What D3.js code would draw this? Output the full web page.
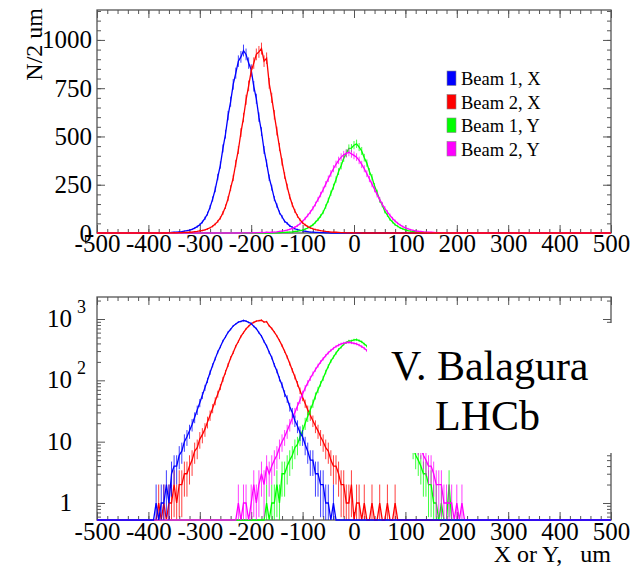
<!DOCTYPE html>
<html>
<head>
<meta charset="utf-8">
<script src="https://cdn.jsdelivr.net/npm/d3@7"></script>
<style>
  body { margin: 0; background: #fff; }
  svg { display: block; font-family: "Liberation Serif", "Times New Roman", serif; }
</style>
</head>
<body>
<svg width="643" height="566"></svg>
<script>
const svg = d3.select("svg");

// histogram contents, N per bin, bins 5 um wide starting at *Start
const binWidth = 5;

const beam1XStart = -395;
const beam1X = [0, 0, 1, 0, 1, 1, 2, 1, 3, 4,
  4, 6, 7, 10, 12, 15, 19, 25, 33, 43,
  57, 76, 100, 134, 176, 226, 290, 352, 438, 512,
  608, 680, 770, 828, 890, 912, 945, 925, 880, 845,
  760, 695, 600, 525, 430, 362, 286, 235, 178, 142,
  106, 84, 61, 50, 37, 30, 22, 18, 14, 12,
  9, 7, 5, 5, 3, 3, 2, 2, 1, 1,
  0, 1];

const beam2XStart = -385;
const beam2X = [0, 1, 0, 1, 0, 1, 1, 2, 1, 2,
  2, 3, 3, 4, 5, 7, 8, 11, 13, 16,
  21, 27, 35, 46, 60, 78, 104, 136, 178, 232,
  285, 360, 430, 520, 598, 690, 762, 838, 880, 925,
  938, 955, 890, 905, 775, 700, 612, 528, 445, 368,
  298, 240, 188, 146, 114, 88, 68, 53, 42, 33,
  27, 22, 18, 15, 12, 10, 8, 7, 5, 4,
  4, 3, 2, 2, 1, 1, 2, 0, 1, 1,
  0, 1, 0, 0, 1, 0, 0, 1, 0, 0,
  1, 0, 0, 1];

const beam1YStart = -175;
const beam1Y = [0, 1, 0, 1, 1, 2, 1, 3, 3, 4, 5, 6, 8, 9, 12, 15, 20, 26, 33, 42,
  56, 70, 88, 108, 137, 170, 206, 240, 277, 318, 348, 388, 413, 438, 440, 455, 462, 445, 425, 390,
  362, 318, 288, 243, 210, 170, 145, 112, 93, 71, 57, 43, 35, 26, 21, 16, 12, 10, 8, 6,
  5, 4, 3, 3, 2, 2, 1, 1, 0, 1, 0, 0, 2, 0];

const beam2YStart = -230;
const beam2Y = [0, 1, 0, 1, 1, 0, 1, 2, 1, 2,
  3, 2, 4, 3, 4, 5, 6, 8, 10, 12,
  15, 19, 24, 30, 38, 48, 60, 75, 91, 108,
  128, 150, 174, 199, 225, 253, 281, 308, 333, 356,
  376, 393, 405, 412, 418, 410, 402, 393, 376, 355,
  333, 307, 280, 253, 226, 198, 174, 149, 128, 108,
  91, 75, 62, 51, 41, 33, 27, 22, 17, 14,
  11, 9, 8, 6, 5, 4, 4, 3, 2, 2,
  2, 1, 1, 1, 1, 0, 1, 0, 1, 0];

const legendNames = ["Beam 1, X", "Beam 2, X", "Beam 1, Y", "Beam 2, Y"];
const colors = ["#0000ff", "#ff0000", "#00ff00", "#ff00ff"];

const xTicks = [-500, -400, -300, -200, -100, 0, 100, 200, 300, 400, 500];
const linTicks = [0, 250, 500, 750, 1000];
const logTicks = [1, 10, 100, 1000];
const logLabels = [["1", ""], ["10", ""], ["10", "2"], ["10", "3"]];

const series = [
  {name: legendNames[0], color: colors[0], start: beam1XStart, values: beam1X},
  {name: legendNames[1], color: colors[1], start: beam2XStart, values: beam2X},
  {name: legendNames[2], color: colors[2], start: beam1YStart, values: beam1Y},
  {name: legendNames[3], color: colors[3], start: beam2YStart, values: beam2Y}
];

const x = d3.scaleLinear().domain([-500, 500]).range([97, 611]);
const yLin = d3.scaleLinear().domain([0, 1155]).range([233, 10]);
const yLog = d3.scaleLog().domain([0.528, 2285]).range([520, 297]);

const frameColor = "#555";
const labelSize = 25;
const xMinor = d3.range(-500, 501, 20);
const linMinor = d3.range(0, 1151, 50);
const logMinor = [0.6, 0.7, 0.8, 0.9].concat(
  ...[1, 10, 100].map(p => d3.range(2, 10).map(k => k * p)), [2000]);

// every bin over the full range, empty bins are zero
const binsOf = s => d3.range(-500, 500 + binWidth / 2, binWidth).map(b => {
  const i = Math.round((b - s.start) / binWidth);
  return {x: b, v: i >= 0 && i < s.values.length ? s.values[i] : 0};
});

const styleAxis = g => {
  g.attr("color", frameColor).attr("font-size", labelSize)
    .attr("font-family", '"Liberation Serif", serif');
  g.select(".domain").remove();
  g.selectAll("text").attr("fill", "#000");
};

function drawFrame(y, yMajor, yMinor, top, bottom, labelLeft) {
  const g = svg.append("g");
  g.append("rect")
    .attr("x", x.range()[0]).attr("y", top)
    .attr("width", x.range()[1] - x.range()[0]).attr("height", bottom - top)
    .attr("fill", "none").attr("stroke", frameColor).attr("stroke-width", 1.3);

  g.append("g").attr("transform", `translate(0,${bottom})`)
    .call(d3.axisBottom(x).tickValues(xMinor).tickSize(-4).tickFormat("")).call(styleAxis);
  g.append("g").attr("transform", `translate(0,${top})`)
    .call(d3.axisTop(x).tickValues(xMinor).tickSize(-4).tickFormat("")).call(styleAxis);
  g.append("g").attr("transform", `translate(0,${top})`)
    .call(d3.axisTop(x).tickValues(xTicks).tickSize(-8).tickFormat("")).call(styleAxis);
  g.append("g").attr("transform", `translate(0,${bottom})`)
    .call(d3.axisBottom(x).tickValues(xTicks).tickSize(-8).tickPadding(labelLeft ? 1 : 2)
      .tickFormat(d => String(d))).call(styleAxis);

  const xl = x.range()[0], xr = x.range()[1];
  g.append("g").attr("transform", `translate(${xl},0)`)
    .call(d3.axisLeft(y).tickValues(yMinor).tickSize(-4).tickFormat("")).call(styleAxis);
  g.append("g").attr("transform", `translate(${xr},0)`)
    .call(d3.axisRight(y).tickValues(yMinor).tickSize(-4).tickFormat("")).call(styleAxis);
  g.append("g").attr("transform", `translate(${xr},0)`)
    .call(d3.axisRight(y).tickValues(yMajor).tickSize(-8).tickFormat("")).call(styleAxis);
  g.append("g").attr("transform", `translate(${xl},0)`)
    .call(d3.axisLeft(y).tickValues(yMajor).tickSize(-8).tickPadding(5)
      .tickFormat(labelLeft ? (d => String(d)) : "")).call(styleAxis);
}

function drawSeries(s, y, floor) {
  const pts = binsOf(s);
  const yv = v => y(Math.max(v, floor));
  const g = svg.append("g");
  g.selectAll("line").data(pts.filter(p => p.v > 0)).join("line")
    .attr("x1", p => x(p.x)).attr("x2", p => x(p.x))
    .attr("y1", p => yv(p.v - Math.sqrt(p.v)))
    .attr("y2", p => yv(p.v + Math.sqrt(p.v)))
    .attr("stroke", s.color).attr("stroke-width", 1).attr("opacity", 0.75);
  g.append("path").datum(pts)
    .attr("d", d3.line().x(p => x(p.x)).y(p => yv(p.v)))
    .attr("fill", "none").attr("stroke", s.color).attr("stroke-width", 1.3);
}

// ---- top: linear ----
drawFrame(yLin, linTicks, linMinor, 10, 233, true);
[0, 2, 3, 1].forEach(i => drawSeries(series[i], yLin, 0));

svg.append("text")
  .attr("transform", "translate(42,8) rotate(-90)")
  .attr("text-anchor", "end").attr("font-size", 24)
  .text("N/2 um");

const legend = svg.append("g").attr("transform", "translate(447,71)");
legend.selectAll("g").data(series).join("g")
  .attr("transform", (d, i) => `translate(0,${i * 23.5})`)
  .call(g => g.append("rect").attr("width", 9).attr("height", 14.5)
    .attr("fill", d => d.color).attr("stroke", "#888").attr("stroke-width", 0.6))
  .call(g => g.append("text").attr("x", 14).attr("y", 14)
    .attr("font-size", 18.5).text(d => d.name));

// ---- bottom: log ----
drawFrame(yLog, logTicks, logMinor, 297, 520, false);
[1, 2, 3, 0].forEach(i => drawSeries(series[i], yLog, yLog.domain()[0]));

const logLab = svg.append("g").attr("font-size", labelSize);
logLab.selectAll("text").data(logTicks).join("text")
  .attr("x", 72).attr("y", d => yLog(d)).attr("dy", "0.32em")
  .attr("text-anchor", "end")
  .text((d, i) => logLabels[i][0]);
logLab.selectAll("text.sup").data(logTicks.filter((d, i) => logLabels[i][1]))
  .join("text").attr("class", "sup")
  .attr("x", 77).attr("y", d => yLog(d) - 6)
  .attr("font-size", 18)
  .text(d => logLabels[logTicks.indexOf(d)][1]);

svg.append("text")
  .attr("x", 611).attr("y", 562).attr("text-anchor", "end")
  .attr("font-size", 24).style("white-space", "pre")
  .text("X or Y,   um");

// label box over the plot
svg.append("rect").attr("x", 367).attr("y", 323).attr("width", 270).attr("height", 130)
  .attr("fill", "#fff");
svg.append("text").attr("x", 391).attr("y", 380).attr("font-size", 42).text("V. Balagura");
svg.append("text").attr("x", 435).attr("y", 430).attr("font-size", 42).text("LHCb");
</script>
</body>
</html>
